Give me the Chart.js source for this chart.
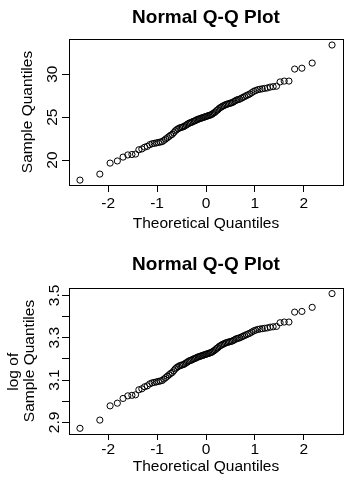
<!DOCTYPE html>
<html><head><meta charset="utf-8">
<script src="https://cdn.jsdelivr.net/npm/chart.js@4.4.0/dist/chart.umd.min.js"></script>
<style>
html,body{margin:0;padding:0;background:#fff;}
canvas{display:block;}
</style></head><body>
<canvas id="c1" width="360" height="240"></canvas>
<canvas id="c2" width="360" height="240"></canvas>
<script>
// ---- data ----
const theoretical = [-2.576,-2.170,-1.960,-1.812,-1.695,-1.598,-1.514,-1.440,-1.372,-1.311,
 -1.254,-1.200,-1.150,-1.103,-1.058,-1.015,-0.974,-0.935,-0.896,-0.860,
 -0.824,-0.789,-0.755,-0.722,-0.690,-0.659,-0.628,-0.598,-0.568,-0.539,
 -0.510,-0.482,-0.454,-0.426,-0.399,-0.372,-0.345,-0.319,-0.292,-0.266,
 -0.240,-0.215,-0.189,-0.164,-0.138,-0.113,-0.088,-0.063,-0.038,-0.013,
 0.013,0.038,0.063,0.088,0.113,0.138,0.164,0.189,0.215,0.240,
 0.266,0.292,0.319,0.345,0.372,0.399,0.426,0.454,0.482,0.510,
 0.539,0.568,0.598,0.628,0.659,0.690,0.722,0.755,0.789,0.824,
 0.860,0.896,0.935,0.974,1.015,1.058,1.103,1.150,1.200,1.254,
 1.311,1.372,1.440,1.514,1.598,1.695,1.812,1.960,2.170,2.576];
const sample = [17.67,18.37,19.65,19.90,20.35,20.60,20.65,20.70,21.20,21.30,
 21.50,21.60,21.80,21.90,21.95,22.00,22.05,22.10,22.15,22.30,
 22.45,22.60,22.75,22.90,23.00,23.20,23.40,23.55,23.65,23.75,
 23.80,23.85,23.90,24.00,24.10,24.20,24.30,24.35,24.40,24.50,
 24.55,24.60,24.70,24.75,24.80,24.85,24.90,24.95,25.00,25.05,
 25.10,25.15,25.20,25.25,25.30,25.40,25.50,25.60,25.75,25.85,
 26.00,26.10,26.20,26.30,26.35,26.45,26.50,26.55,26.60,26.65,
 26.70,26.80,26.90,27.00,27.05,27.10,27.20,27.30,27.40,27.50,
 27.60,27.70,27.85,28.00,28.10,28.20,28.25,28.30,28.35,28.40,
 28.50,28.55,28.60,29.10,29.20,29.20,30.60,30.70,31.30,33.40];
const xTicks = [-2,-1,0,1,2];
const xTickLabels = ['-2','-1','0','1','2'];
const topYTicks = [20,25,30];
const topYTickLabels = ['20','25','30'];
const bottomYTicks = [2.9,3.0,3.1,3.2,3.3,3.4,3.5];
const bottomYTickLabels = ['2.9','','3.1','','3.3','','3.5'];
const plotTitle = 'Normal Q-Q Plot';
const xTitle = 'Theoretical Quantiles';
const topYTitle = 'Sample Quantiles';
const bottomYTitle = ['log of     ','Sample Quantiles'];
const logSample = sample.map(v => Math.log(v));

// ---- chart ----
const FONT = "'Liberation Sans', Arial, sans-serif";
Chart.defaults.font.family = FONT;
Chart.defaults.color = '#000';

function qq(id, yVals, g) {
  const boxPlugin = {
    id: 'rbox',
    afterDraw(chart) {
      const {ctx, chartArea: a} = chart;
      ctx.save();
      ctx.strokeStyle = '#000';
      ctx.lineWidth = 1;
      ctx.strokeRect(Math.round(a.left) + 0.5, Math.round(a.top) + 0.5,
        Math.round(a.right - a.left), Math.round(a.bottom - a.top));
      const ys = chart.scales.y;
      ctx.fillStyle = '#000';
      ctx.font = '15.5px ' + FONT;
      ctx.textAlign = 'center';
      ctx.textBaseline = 'middle';
      g.yTicks.forEach((v, i) => {
        if (!g.yLabels[i]) return;
        const py = ys.getPixelForValue(v);
        ctx.save();
        ctx.translate(g.yLabelX, py);
        ctx.rotate(-Math.PI / 2);
        ctx.fillText(g.yLabels[i], 0, 0);
        ctx.restore();
      });
      ctx.restore();
    }
  };
  return new Chart(document.getElementById(id), {
    type: 'scatter',
    data: {
      datasets: [{
        data: theoretical.map((x, i) => ({x: x, y: yVals[i]})),
        pointRadius: 3.1,
        pointHoverRadius: 3.1,
        borderWidth: 1,
        borderColor: '#000',
        backgroundColor: 'rgba(0,0,0,0)',
        pointStyle: 'circle'
      }]
    },
    options: {
      responsive: false,
      animation: false,
      devicePixelRatio: 1,
      events: [],
      layout: {padding: {left: 0, right: 17, top: 0, bottom: 0}},
      plugins: {
        legend: {display: false},
        tooltip: {enabled: false},
        title: {
          display: true, text: plotTitle, fullSize: false, color: '#000',
          font: {size: 19, weight: 'bold', family: FONT},
          padding: {top: g.titleTop, bottom: g.titleBottom}
        }
      },
      scales: {
        x: {
          type: 'linear', min: -2.8, max: 2.8,
          afterBuildTicks: s => { s.ticks = xTicks.map(v => ({value: v})); },
          afterFit: s => { s.height = g.xHeight; },
          ticks: {
            includeBounds: false, padding: g.xTickPad, color: '#000',
            font: {size: 15.5, family: FONT},
            maxRotation: 0, minRotation: 0, autoSkip: false,
            callback: (v, i) => xTickLabels[i]
          },
          grid: {display: true, drawOnChartArea: false, drawTicks: true,
                 tickLength: g.xTickLen, color: '#000', lineWidth: 1},
          border: {display: false},
          title: {display: true, text: xTitle, color: '#000',
                  font: {size: 15.5, family: FONT},
                  padding: {top: 0, bottom: g.xTitleBottom}}
        },
        y: {
          type: 'linear', min: g.yMin, max: g.yMax,
          afterBuildTicks: s => { s.ticks = g.yTicks.map(v => ({value: v})); },
          afterFit: s => { s.width = 69; },
          ticks: {display: false, includeBounds: false},
          grid: {display: true, drawOnChartArea: false, drawTicks: true,
                 tickLength: 7, color: '#000', lineWidth: 1},
          border: {display: false},
          title: {display: true, text: g.yTitle, color: '#000',
                  font: {size: 15.5, family: FONT, lineHeight: g.yTitleLH},
                  padding: {top: g.yTitleTop, bottom: 0}}
        }
      }
    },
    plugins: [boxPlugin]
  });
}

qq('c1', sample, {
  titleTop: 6.6, titleBottom: 9.6,
  xHeight: 55, xTickLen: 7, xTickPad: 2.7, xTitleBottom: 6.7,
  yMin: 17.1, yMax: 34.1, yTicks: topYTicks, yLabels: topYTickLabels,
  yLabelX: 52.7, yTitle: topYTitle, yTitleLH: 1.2, yTitleTop: 18
});
qq('c2', logSample, {
  titleTop: 13.6, titleBottom: 11.6,
  xHeight: 46, xTickLen: 6, xTickPad: 0, xTitleBottom: 4,
  yMin: 2.845, yMax: 3.535, yTicks: bottomYTicks, yLabels: bottomYTickLabels,
  yLabelX: 54.3, yTitle: bottomYTitle, yTitleLH: 1.032, yTitleTop: 5.3
});
</script>
</body></html>
